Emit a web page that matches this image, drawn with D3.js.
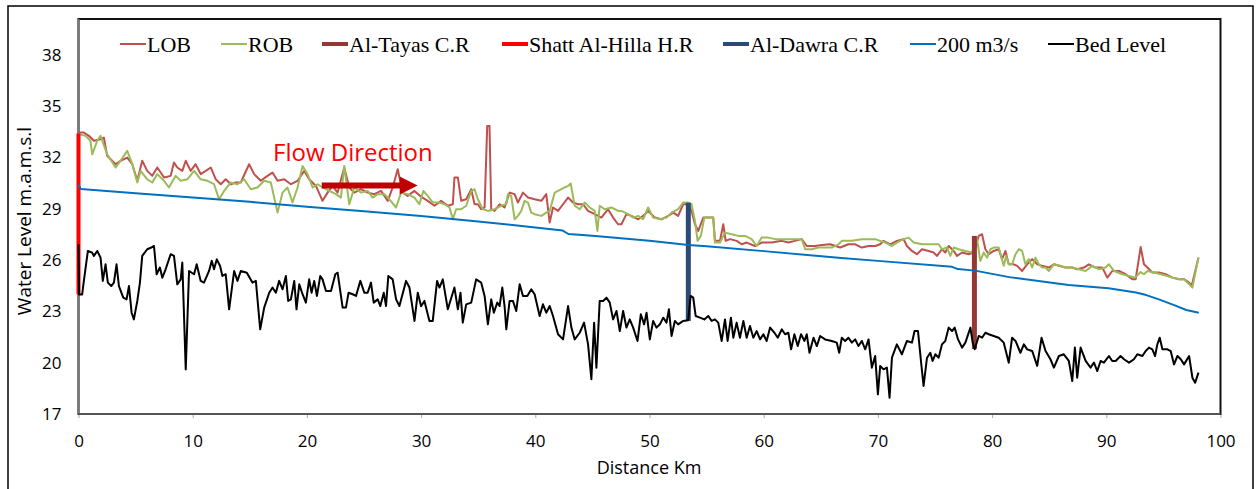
<!DOCTYPE html>
<html><head><meta charset="utf-8">
<script src="https://cdn.jsdelivr.net/npm/d3@7"></script>
<style>body{margin:0;background:#fff}svg{display:block}</style>
</head><body>
<script>
// ---------- data (km, m.a.m.s.l) ----------
const xTicks = [0,10,20,30,40,50,60,70,80,90,100];
const yTicks = [17,20,23,26,29,32,35,38];
const legendNames = ["LOB","ROB","Al-Tayas C.R","Shatt Al-Hilla H.R","Al-Dawra C.R","200 m3/s","Bed Level"];

const lobData = [[0,33.45],[0.47,33.45],[0.91,33.26],[1.35,32.97],[1.93,33.06],[2.22,33.16],[2.51,32.09],[3.25,31.6],[3.68,31.8],[4.27,31.99],[4.71,31.6],[5.15,30.63],[5.58,31.8],[6.02,31.21],[6.46,30.92],[6.9,31.41],[7.49,30.82],[8.07,30.92],[8.36,31.7],[8.65,31.41],[9.09,31.21],[9.39,31.8],[9.82,31.21],[10.26,31.6],[10.7,31.02],[11.14,31.21],[11.58,31.41],[12.02,30.72],[12.46,30.43],[12.89,30.72],[13.33,30.43],[13.77,30.53],[14.21,30.53],[14.94,31.6],[15.38,31.02],[15.96,30.63],[16.55,30.92],[16.99,31.11],[17.43,30.63],[18.01,30.72],[18.6,30.43],[19.18,30.63],[19.77,31.21],[20.2,30.72],[20.79,30.33],[21.37,29.46],[21.81,29.94],[22.25,30.33],[22.69,29.94],[23.27,31.41],[23.71,30.24],[24.15,29.94],[24.74,30.14],[25.32,29.94],[25.91,29.85],[26.49,30.04],[27.08,29.46],[27.51,30.24],[27.95,31.31],[28.39,29.94],[28.83,29.75],[29.42,30.04],[30.0,29.7],[30.58,29.46],[31.17,29.17],[31.75,29.46],[32.34,29.17],[32.78,29.26],[32.92,30.82],[33.22,30.82],[33.51,29.46],[33.95,29.55],[34.39,30.14],[34.68,29.26],[34.97,29.26],[35.26,28.97],[35.56,29.07],[35.79,33.84],[35.99,33.84],[36.14,28.97],[36.43,28.87],[36.87,29.26],[37.31,29.07],[37.75,29.94],[38.19,29.85],[38.48,29.36],[38.92,29.94],[39.36,29.65],[39.94,29.55],[40.53,29.46],[40.96,29.85],[41.26,28.19],[41.55,29.07],[41.99,28.87],[42.43,29.26],[42.87,29.65],[43.3,29.36],[43.74,29.26],[44.18,29.26],[44.62,28.87],[45.2,28.68],[45.79,28.48],[46.37,28.97],[46.81,28.48],[47.25,28.09],[47.54,28.09],[47.98,28.68],[48.42,28.58],[49.01,28.38],[49.44,28.58],[49.88,28.87],[50.47,28.48],[51.05,28.38],[51.64,28.58],[52.08,28.77],[52.51,28.58],[52.95,29.26],[53.39,29.26],[53.68,28.87],[53.98,28.09],[54.27,27.7],[54.71,28.48],[55.15,28.48],[55.58,28.48],[55.73,27.12],[56.17,27.12],[56.46,28.09],[56.67,27.12],[57.05,27.22],[57.63,27.12],[58.07,26.92],[58.51,27.02],[59.24,26.82],[59.82,27.02],[60.7,27.02],[61.58,27.12],[62.16,27.02],[62.75,27.12],[63.33,27.22],[63.77,26.82],[64.5,26.82],[65.09,26.88],[65.82,26.92],[66.7,26.73],[67.42,26.92],[68.01,26.92],[68.59,26.73],[69.18,26.82],[69.76,26.82],[70.2,26.92],[70.49,27.12],[71.08,26.92],[71.66,27.12],[72.25,27.22],[72.54,26.82],[72.98,26.53],[73.42,26.34],[73.86,26.63],[74.44,26.53],[74.88,26.44],[75.17,26.24],[75.61,26.63],[75.9,26.44],[76.2,26.82],[76.64,26.53],[76.93,26.24],[77.37,26.44],[77.95,26.34],[78.39,26.44],[78.83,27.41],[79.12,27.51],[79.41,26.63],[79.71,26.34],[80.14,26.53],[80.58,26.63],[80.87,26.05],[81.17,26.53],[81.46,25.75],[81.9,25.75],[82.19,25.66],[82.63,25.36],[83.07,25.75],[83.51,26.05],[83.95,25.75],[84.38,25.66],[84.97,25.56],[85.41,25.75],[85.85,25.66],[86.43,25.56],[87.02,25.56],[87.45,25.46],[88.04,25.56],[88.48,25.75],[89.06,25.56],[89.65,25.56],[90.09,24.97],[90.52,25.36],[91.11,25.36],[91.69,25.17],[92.28,24.88],[92.57,24.88],[93.01,26.76],[93.3,25.75],[93.6,25.56],[94.03,25.27],[94.62,25.27],[95.2,25.17],[95.79,24.97],[96.37,24.88],[96.81,24.88],[97.25,24.68],[97.48,24.49],[98.07,26.14]];

const robData = [[0,33.36],[0.61,33.26],[1.05,32.97],[1.2,32.18],[1.64,32.97],[1.93,33.26],[2.51,32.18],[3.25,31.41],[3.68,31.8],[4.27,32.38],[4.71,31.6],[5.15,30.53],[5.44,31.21],[6.02,30.72],[6.46,30.53],[6.9,31.02],[7.49,30.63],[7.92,30.24],[8.51,30.92],[8.95,30.63],[9.53,30.72],[10.12,31.21],[10.7,30.72],[11.29,30.63],[11.87,30.43],[12.31,29.55],[12.75,30.04],[13.33,30.53],[13.92,30.43],[14.5,30.72],[15.09,30.14],[15.67,30.24],[16.26,30.63],[16.84,30.53],[17.43,28.77],[17.87,29.94],[18.3,30.24],[18.74,29.36],[19.18,30.24],[19.62,31.5],[20.06,31.02],[20.5,30.24],[20.94,30.43],[21.37,30.24],[21.96,30.04],[22.54,29.85],[22.98,29.65],[23.27,31.5],[23.71,29.26],[24.15,30.24],[24.74,29.94],[25.32,30.04],[25.76,29.65],[26.2,29.85],[26.78,29.85],[27.22,29.55],[27.81,29.07],[28.25,29.94],[28.83,29.85],[29.42,29.65],[29.85,29.26],[30.2,30.04],[30.58,29.75],[31.02,29.36],[31.61,29.36],[32.05,29.26],[32.49,29.07],[32.78,28.38],[33.07,28.97],[33.51,28.97],[33.95,29.17],[34.39,30.04],[34.68,30.14],[34.97,29.55],[35.41,28.97],[35.85,28.87],[36.43,28.97],[37.02,29.17],[37.46,29.26],[37.6,29.85],[37.89,29.75],[38.19,28.38],[38.48,28.58],[38.77,28.87],[39.06,29.46],[39.36,29.36],[39.65,28.77],[39.94,28.68],[40.53,28.58],[40.96,28.77],[41.26,28.87],[41.7,29.94],[42.28,30.14],[42.57,30.24],[42.87,30.33],[43.1,30.47],[43.45,29.17],[43.89,28.97],[44.33,29.36],[44.77,29.07],[45.2,28.87],[45.44,27.7],[45.64,29.17],[46.08,28.97],[46.67,29.07],[47.25,28.87],[47.54,28.87],[48.13,28.68],[48.57,28.48],[49.01,28.58],[49.44,28.38],[49.88,29.07],[50.32,28.48],[50.91,28.38],[51.49,28.48],[51.93,28.77],[52.51,28.97],[52.95,29.36],[53.39,29.36],[53.68,29.26],[53.98,28.29],[54.21,27.12],[54.5,27.41],[54.8,28.48],[55.29,28.48],[55.58,28.48],[55.73,27.02],[56.17,27.02],[56.61,27.6],[57.19,27.51],[57.78,27.41],[58.36,27.41],[58.95,27.22],[59.39,26.82],[59.82,27.31],[60.41,27.31],[61.0,27.22],[61.58,27.22],[62.16,27.22],[62.75,27.22],[63.33,27.22],[63.63,26.63],[64.21,26.63],[64.8,26.73],[65.38,26.73],[65.96,26.73],[66.55,26.92],[66.84,27.12],[67.72,27.12],[68.59,27.22],[69.18,27.22],[69.76,27.22],[70.2,27.12],[70.64,27.02],[71.23,26.82],[71.66,27.02],[72.25,27.22],[72.69,27.31],[73.13,27.02],[73.86,26.92],[74.59,26.92],[75.32,26.92],[75.61,26.63],[76.05,26.73],[76.34,26.24],[76.64,26.73],[77.07,26.63],[77.66,26.53],[78.24,26.44],[78.68,27.22],[78.97,25.95],[79.27,26.44],[79.56,26.14],[79.85,26.63],[80.14,26.73],[80.58,26.73],[81.02,25.66],[81.23,26.24],[81.46,25.75],[81.75,25.75],[82.05,26.34],[82.34,26.63],[82.63,26.53],[82.92,25.75],[83.21,26.05],[83.51,25.56],[83.8,26.14],[84.09,25.75],[84.38,25.56],[84.68,25.56],[84.97,25.36],[85.41,25.75],[85.99,25.66],[86.43,25.56],[87.02,25.56],[87.6,25.46],[88.19,25.36],[88.77,25.66],[89.36,25.46],[89.94,25.56],[90.23,25.75],[90.67,25.36],[91.4,25.17],[91.99,25.07],[92.51,24.97],[93.01,25.3],[93.3,25.17],[93.6,25.36],[94.18,25.27],[94.76,25.17],[95.35,25.07],[95.79,24.97],[96.37,24.88],[96.81,24.88],[97.25,24.58],[97.54,24.39],[98.07,26.14]];

const bedData = [[0,26.92],[0.05,23.99],[0.32,23.99],[0.47,24.78],[0.82,26.53],[1.2,26.43],[1.35,26.24],[1.64,26.53],[1.93,26.14],[2.13,24.78],[2.37,25.75],[2.57,24.68],[2.87,24.48],[3.1,24.68],[3.33,25.75],[3.54,24.48],[3.92,23.8],[4.21,23.7],[4.42,24.48],[4.65,22.92],[4.85,22.53],[5.15,23.61],[5.38,24.68],[5.58,26.24],[6.02,26.63],[6.37,26.73],[6.61,26.82],[6.84,25.17],[7.13,25.56],[7.34,24.97],[7.63,25.46],[8.07,26.34],[8.36,26.24],[8.65,24.58],[8.95,24.87],[9.09,25.85],[9.39,19.61],[9.68,25.36],[10.12,25.17],[10.35,25.75],[10.7,24.78],[10.99,24.68],[11.43,25.36],[11.67,25.95],[11.87,25.46],[12.11,26.04],[12.4,25.65],[12.6,25.07],[12.89,25.17],[13.19,23.12],[13.63,25.36],[13.92,24.78],[14.21,25.36],[14.74,25.26],[15.23,24.68],[15.53,24.78],[15.91,21.95],[16.26,23.22],[16.7,24.09],[16.99,24.39],[17.28,24.09],[17.57,24.78],[17.87,24.29],[18.16,25.07],[18.36,23.61],[18.6,23.7],[18.89,24.78],[19.09,23.12],[19.33,24.58],[19.62,24.0],[19.91,23.51],[20.2,24.87],[20.41,24.09],[20.64,24.78],[20.88,23.9],[21.17,25.07],[21.37,24.87],[21.67,24.19],[22.11,24.19],[22.49,25.17],[22.69,25.26],[23.13,23.22],[23.42,23.22],[23.65,24.09],[24.01,24.0],[24.3,23.9],[24.68,24.78],[25.03,24.09],[25.32,24.09],[25.61,24.68],[25.85,23.51],[26.2,23.7],[26.43,23.31],[26.73,24.09],[26.93,23.31],[27.13,25.07],[27.51,24.87],[27.81,23.7],[28.1,23.31],[28.68,24.78],[28.98,24.39],[29.42,22.44],[29.71,24.09],[30.0,23.3],[30.29,23.61],[30.73,22.44],[31.02,22.44],[31.4,24.78],[31.61,24.39],[31.9,24.87],[32.34,23.12],[32.92,24.39],[33.22,23.12],[33.45,24.09],[33.65,22.34],[33.95,23.41],[34.39,23.51],[34.82,24.87],[35.26,24.68],[35.56,23.9],[35.85,22.24],[36.14,23.7],[36.37,22.92],[36.67,23.51],[36.87,23.31],[37.11,24.39],[37.31,23.31],[37.46,21.95],[37.75,23.61],[38.04,23.61],[38.33,23.02],[38.63,24.58],[38.92,23.9],[39.3,23.9],[39.65,24.29],[39.94,24.0],[40.38,22.73],[40.67,23.41],[40.96,22.92],[41.26,23.31],[41.55,22.73],[41.99,21.66],[42.43,21.36],[42.87,23.31],[43.16,22.05],[43.45,21.36],[43.89,21.75],[44.27,22.34],[44.62,21.07],[44.91,19.03],[45.15,22.34],[45.35,19.71],[45.64,23.61],[45.94,23.61],[46.23,23.8],[46.52,23.51],[46.81,22.53],[47.11,23.02],[47.4,21.85],[47.69,23.02],[47.98,22.05],[48.27,22.53],[48.57,22.05],[48.95,21.27],[49.24,22.83],[49.53,22.24],[49.74,22.92],[50.03,21.36],[50.32,22.44],[50.61,22.05],[50.91,22.24],[51.2,22.63],[51.49,22.34],[51.7,23.12],[51.93,21.56],[52.22,22.44],[52.51,22.24],[52.95,22.44],[53.39,22.48],[53.6,23.9],[53.83,23.8],[54.04,22.73],[54.42,22.63],[54.8,22.53],[55.15,22.73],[55.44,22.44],[55.73,22.53],[56.02,22.34],[56.32,21.27],[56.61,22.53],[56.84,21.27],[57.13,22.63],[57.34,21.46],[57.63,22.34],[57.92,21.46],[58.22,22.44],[58.51,21.46],[58.8,22.14],[59.09,21.46],[59.39,21.85],[59.68,21.36],[59.97,21.66],[60.26,21.27],[60.56,22.05],[60.94,21.75],[61.23,21.46],[61.58,21.95],[61.87,21.66],[62.16,21.75],[62.4,20.78],[62.69,21.66],[62.98,20.97],[63.27,21.66],[63.57,21.27],[63.77,21.66],[64.01,20.58],[64.36,21.46],[64.65,20.97],[64.94,21.56],[65.38,21.36],[65.96,21.27],[66.4,21.17],[66.61,20.58],[66.84,21.46],[67.13,21.27],[67.42,21.46],[67.72,21.17],[68.01,21.36],[68.3,20.97],[68.59,21.27],[68.89,20.78],[69.18,21.36],[69.47,19.71],[69.76,20.39],[70.0,18.15],[70.2,19.81],[70.49,19.61],[70.79,19.71],[71.02,17.95],[71.23,20.29],[71.66,21.07],[72.1,20.49],[72.54,21.27],[72.98,21.17],[73.21,21.85],[73.51,21.85],[73.8,19.9],[74.0,18.64],[74.3,20.29],[74.59,20.58],[74.79,20.1],[75.03,20.49],[75.32,20.29],[75.61,21.07],[75.9,21.27],[76.2,22.05],[76.49,21.85],[76.72,22.05],[77.02,21.36],[77.37,20.88],[77.66,21.17],[78.1,22.05],[78.3,21.17],[78.48,20.78],[78.83,21.56],[79.12,21.46],[79.41,21.75],[79.71,21.66],[80.14,21.56],[80.58,21.46],[81.02,21.17],[81.46,20.0],[81.75,21.46],[82.05,21.27],[82.48,20.58],[82.78,21.07],[83.07,20.78],[83.51,20.68],[83.95,19.81],[84.33,21.46],[84.68,20.68],[85.11,20.2],[85.41,19.71],[85.85,20.39],[86.28,20.49],[86.72,20.1],[87.02,18.93],[87.25,20.88],[87.45,19.12],[87.75,20.88],[88.19,20.1],[88.62,19.71],[88.92,20.0],[89.21,19.51],[89.5,20.1],[89.79,20.0],[90.23,20.39],[90.52,20.1],[90.82,20.1],[91.25,20.39],[91.55,20.2],[91.99,20.0],[92.42,20.2],[92.72,20.49],[93.16,20.39],[93.45,20.68],[93.74,20.88],[94.03,20.78],[94.27,20.39],[94.47,21.07],[94.68,21.46],[94.91,20.78],[95.35,20.78],[95.64,20.68],[95.93,19.9],[96.23,20.39],[96.52,20.2],[96.81,19.9],[97.25,20.39],[97.54,19.12],[97.78,18.83],[98.07,19.42]];

const flow200Data = [[0,30.4],[0.2,30.15],[5,29.9],[10,29.65],[15,29.4],[20,29.12],[25,28.85],[30,28.58],[35,28.25],[39.4,27.95],[42.4,27.72],[42.9,27.52],[45,27.42],[50,27.12],[53.4,26.88],[55,26.8],[60,26.52],[66.8,26.12],[70,25.95],[76.5,25.6],[77,25.47],[78.5,25.38],[81.5,25.0],[86.7,24.54],[90.2,24.35],[92.6,24.1],[93.5,23.95],[94.6,23.7],[96,23.35],[97,23.08],[98.1,22.92]];

const tayasData = [[78.45,20.8],[78.45,27.41]];
const hillaData = [[0,24.0],[0,33.4]];
const dawraData = [[53.4,22.44],[53.4,29.35]];
const arrowKm = [21.3,29.7];
const arrowLevel = 30.35;

// ---------- chart ----------
const W = 1258, H = 489;
const svg = d3.select("body").append("svg").attr("width", W).attr("height", H);
const x = d3.scaleLinear().domain([0,100]).range([78.5,1220.5]);
const y = d3.scaleLinear().domain([17,40]).range([414,20.5]);

svg.append("rect").attr("x",8).attr("y",6).attr("width",1245).attr("height",500)
  .attr("fill","#fff").attr("stroke","#000").attr("stroke-width",1.5);

// axes
const sans = "'Open Sans', 'Liberation Sans', sans-serif";
const yAxis = svg.append("g").attr("transform","translate(78.5,0)")
  .call(d3.axisLeft(y).tickValues(yTicks).tickSize(0).tickPadding(17).tickFormat(d3.format("d")));
yAxis.select(".domain").remove();
yAxis.selectAll("text").attr("font-family",sans).attr("font-size",17).attr("fill","#000");

const xAxis = svg.append("g").attr("transform","translate(0,414)")
  .call(d3.axisBottom(x).tickValues(xTicks).tickSize(4).tickPadding(17).tickFormat(d3.format("d")));
xAxis.select(".domain").remove();
xAxis.selectAll("line").attr("stroke","#aaa");
xAxis.selectAll("text").attr("font-family",sans).attr("font-size",17).attr("fill","#000");

// plot frame
svg.append("rect").attr("x",78.5).attr("y",19).attr("width",1142).attr("height",395)
  .attr("fill","none").attr("stroke","#111").attr("stroke-width",2);
svg.append("line").attr("x1",78.5).attr("x2",78.5).attr("y1",19).attr("y2",414).attr("stroke","#777").attr("stroke-width",2);
svg.append("line").attr("x1",78.5).attr("x2",1220.5).attr("y1",414).attr("y2",414).attr("stroke","#555").attr("stroke-width",2);

// titles
svg.append("text").attr("x",649).attr("y",474).attr("text-anchor","middle")
  .attr("font-family",sans).attr("font-size",18).text("Distance Km");
svg.append("text").attr("transform","translate(31,221) rotate(-90)").attr("text-anchor","middle")
  .attr("font-family",sans).attr("font-size",19).text("Water Level m.a.m.s.l");

// series
const line = d3.line().x(d=>x(d[0])).y(d=>y(d[1]));
const series = [
  {d: lobData, c:"#C0504D", w:2},
  {d: robData, c:"#9BBB59", w:2},
  {d: tayasData, c:"#953735", w:5},
  {d: hillaData, c:"#FF0000", w:4},
  {d: dawraData, c:"#2C4A78", w:5},
  {d: flow200Data, c:"#0070C0", w:2},
  {d: bedData, c:"#000000", w:2}
];
series.forEach(s => {
  svg.append("path").datum(s.d).attr("d", line).attr("fill","none")
    .attr("stroke", s.c).attr("stroke-width", s.w).attr("stroke-linejoin","round");
});

// flow direction annotation
svg.append("text").attr("x",273).attr("y",161).attr("font-family",sans).attr("font-size",24)
  .attr("fill","#FF0000").text("Flow Direction");
const ax0 = x(arrowKm[0]), ax1 = x(arrowKm[1]), ay = y(arrowLevel);
svg.append("line").attr("x1",ax0).attr("x2",ax1-16).attr("y1",ay).attr("y2",ay)
  .attr("stroke","#C00000").attr("stroke-width",6);
svg.append("path").attr("d",`M${ax1-18},${ay-9}L${ax1},${ay}L${ax1-18},${ay+9}Z`).attr("fill","#C00000");

// legend
const legX = [120,221,322,502,723,910,1048];
const legend = svg.append("g");
series.forEach((s,i) => {
  legend.append("line").attr("x1",legX[i]).attr("x2",legX[i]+26).attr("y1",44).attr("y2",44)
    .attr("stroke",s.c).attr("stroke-width", s.w>2 ? 4 : 2);
  legend.append("text").attr("x",legX[i]+27).attr("y",52)
    .attr("font-family","'Liberation Serif','Times New Roman',serif").attr("font-size",22)
    .text(legendNames[i]);
});
</script>
</body></html>
